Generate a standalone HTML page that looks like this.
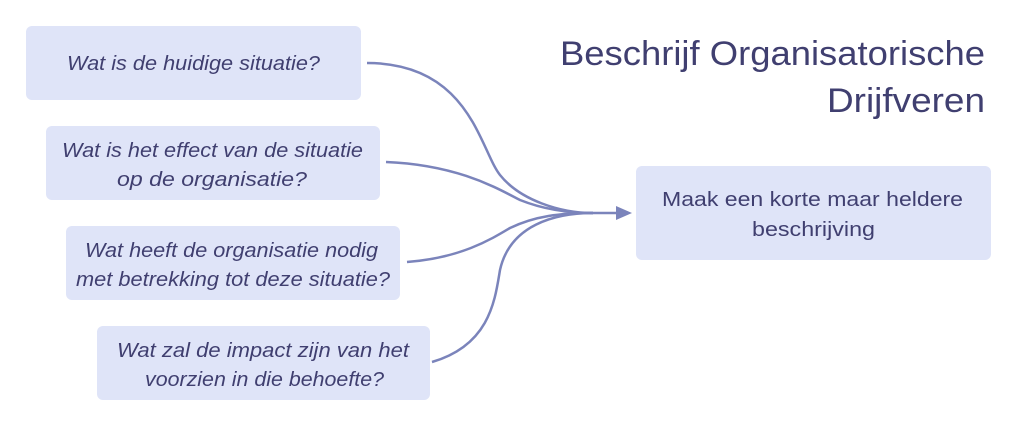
<!DOCTYPE html>
<html><head><meta charset="utf-8"><style>
html,body{margin:0;padding:0;background:#fff;}
svg{display:block;}
text{font-family:"Liberation Sans",sans-serif;fill:#403f70;}
.q{font-style:italic;font-size:20px;}
</style></head><body>
<svg width="1016" height="426" viewBox="0 0 1016 426">
<g fill="#dfe4f8">
<rect x="26" y="26" width="335" height="74" rx="6"/>
<rect x="46" y="126" width="334" height="74" rx="6"/>
<rect x="66" y="226" width="334" height="74" rx="6"/>
<rect x="97" y="326" width="333" height="74" rx="6"/>
<rect x="636" y="166" width="355" height="94" rx="6"/>
</g>
<g fill="none" stroke="#7b84bb" stroke-width="2.5">
<path d="M367,63 C470,63 480,150 500,175 C520,200 560,213 593,213"/>
<path d="M386,162 C460,165 500,190 520,200 C545,210 570,213 593,213"/>
<path d="M407,262 C460,258 490,240 510,228 C535,216 560,213 593,213"/>
<path d="M432,362 C490,345 495,300 500,270 C510,225 555,213 593,213"/>
<path d="M590,213 L618,213"/>
</g>
<polygon points="616,206 632,213 616,220" fill="#7b84bb"/>
<g lengthAdjust="spacingAndGlyphs">
<text class="q" x="67" y="70" textLength="253" lengthAdjust="spacingAndGlyphs">Wat is de huidige situatie?</text>
<text class="q" x="62" y="157" textLength="301" lengthAdjust="spacingAndGlyphs">Wat is het effect van de situatie</text>
<text class="q" x="117" y="186" textLength="190" lengthAdjust="spacingAndGlyphs">op de organisatie?</text>
<text class="q" x="85" y="257" textLength="293" lengthAdjust="spacingAndGlyphs">Wat heeft de organisatie nodig</text>
<text class="q" x="76" y="286" textLength="314" lengthAdjust="spacingAndGlyphs">met betrekking tot deze situatie?</text>
<text class="q" x="117" y="357" textLength="292" lengthAdjust="spacingAndGlyphs">Wat zal de impact zijn van het</text>
<text class="q" x="145" y="386" textLength="239" lengthAdjust="spacingAndGlyphs">voorzien in die behoefte?</text>
<text x="662" y="206" font-size="20" textLength="301" lengthAdjust="spacingAndGlyphs">Maak een korte maar heldere</text>
<text x="752" y="236" font-size="20" textLength="123" lengthAdjust="spacingAndGlyphs">beschrijving</text>
<text x="560" y="65" font-size="34" textLength="425" lengthAdjust="spacingAndGlyphs">Beschrijf Organisatorische</text>
<text x="827" y="112" font-size="34" textLength="158" lengthAdjust="spacingAndGlyphs">Drijfveren</text>
</g>
</svg>
</body></html>
